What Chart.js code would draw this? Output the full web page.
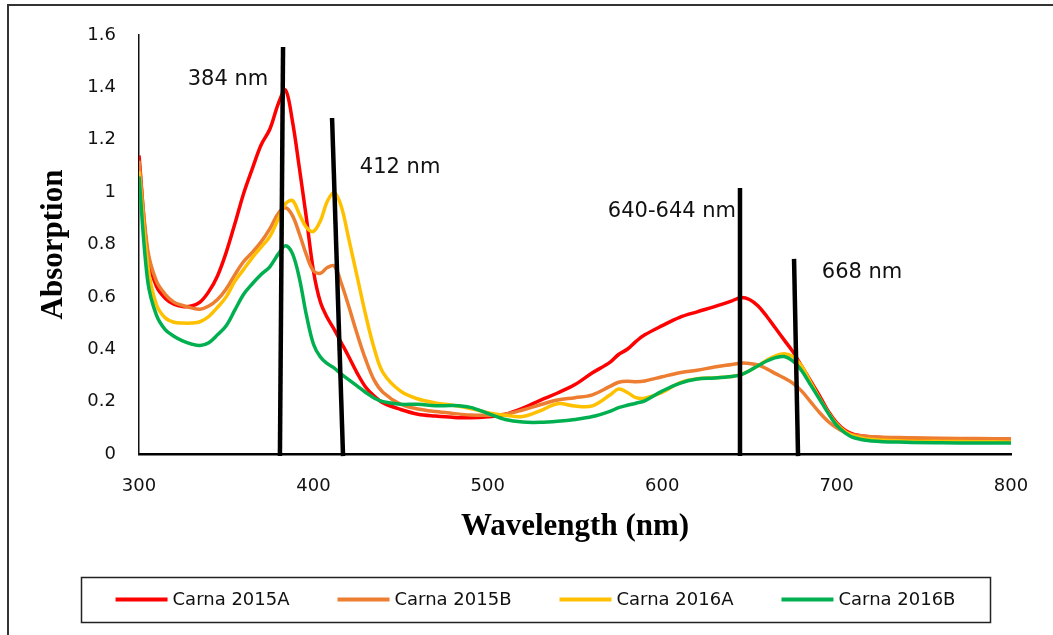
<!DOCTYPE html>
<html>
<head>
<meta charset="utf-8">
<title>Absorption spectra</title>
<script src="https://cdn.jsdelivr.net/npm/chart.js@4.4.1/dist/chart.umd.min.js"></script>
<style>
  html, body { margin: 0; padding: 0; background: #fff; }
  #spectra { display: block; }
</style>
</head>
<body>
<canvas id="spectra" width="1053" height="635"></canvas>
<script>
// ---- data ----
const wavelengths = [
  300, 305, 310, 315, 320, 325, 330, 335, 340, 345, 350, 355, 360, 365, 370, 375, 380,
  384, 388, 392, 396, 400, 404, 408, 412, 416, 420,
  425, 430, 435, 440,
  450, 460, 470, 480, 490, 500, 510, 520, 530, 540, 550, 560,
  570, 575, 580, 585, 590,
  600, 610, 620, 630, 640,
  645, 650, 655, 660, 665, 670, 675, 680, 685, 690, 695, 700, 705, 710,
  720, 740, 760, 780, 800
];

const carna2015A = [
  1.14, 0.76, 0.64, 0.595, 0.572, 0.563, 0.565, 0.58, 0.62, 0.68, 0.77, 0.88, 0.995, 1.09, 1.18, 1.24, 1.34,
  1.39, 1.27, 1.09, 0.9, 0.7, 0.58, 0.52, 0.475, 0.425, 0.375,
  0.31, 0.255, 0.22, 0.195,
  0.17, 0.152, 0.145, 0.14, 0.138, 0.142, 0.152, 0.175, 0.205, 0.233, 0.265, 0.31,
  0.35, 0.38, 0.4, 0.43, 0.455,
  0.49, 0.522, 0.543, 0.563, 0.585,
  0.597, 0.59, 0.565, 0.525, 0.48, 0.435, 0.39, 0.335, 0.28, 0.225, 0.165, 0.12, 0.09, 0.075,
  0.065, 0.06, 0.058, 0.056, 0.055
];

const carna2015B = [
  1.12, 0.78, 0.66, 0.61, 0.58, 0.567, 0.558, 0.553, 0.565, 0.59, 0.63, 0.685, 0.735, 0.77, 0.81, 0.86, 0.92,
  0.94, 0.91, 0.84, 0.76, 0.7, 0.69, 0.712, 0.718, 0.652, 0.57,
  0.46, 0.36, 0.28, 0.235,
  0.19, 0.172, 0.162, 0.155, 0.149, 0.148, 0.152, 0.168, 0.188, 0.206, 0.215, 0.226,
  0.258, 0.274, 0.278, 0.276, 0.279,
  0.295, 0.31, 0.32, 0.332, 0.342,
  0.347, 0.346, 0.34, 0.325, 0.307, 0.29, 0.27, 0.24, 0.2, 0.16, 0.125, 0.1, 0.082, 0.073,
  0.066, 0.062, 0.06, 0.059, 0.058
];

const carna2016A = [
  1.08, 0.72, 0.57, 0.52, 0.503, 0.5, 0.5, 0.505, 0.525, 0.56, 0.6, 0.66, 0.705, 0.75, 0.79, 0.83, 0.9,
  0.955, 0.968, 0.915, 0.865, 0.85, 0.89, 0.965, 0.998, 0.945, 0.83,
  0.68, 0.53, 0.4, 0.31,
  0.24, 0.21, 0.195, 0.186, 0.174, 0.158, 0.148, 0.143, 0.165, 0.192, 0.183, 0.184,
  0.225, 0.248, 0.235, 0.215, 0.213,
  0.235, 0.272, 0.287, 0.291, 0.296,
  0.303, 0.318, 0.337, 0.358, 0.375, 0.383, 0.372, 0.335, 0.275, 0.215, 0.16, 0.115, 0.085, 0.068,
  0.055, 0.05, 0.048, 0.047, 0.046
];

const carna2016B = [
  1.06, 0.66, 0.53, 0.475, 0.45, 0.432, 0.42, 0.414, 0.425, 0.455, 0.49, 0.55, 0.61, 0.65, 0.685, 0.715, 0.765,
  0.795, 0.765, 0.67, 0.53, 0.42, 0.37, 0.345, 0.328, 0.305, 0.285,
  0.26, 0.235, 0.213, 0.2,
  0.19, 0.19, 0.184, 0.185, 0.178, 0.155, 0.132, 0.122, 0.121, 0.125, 0.132, 0.143,
  0.163, 0.177, 0.186, 0.194, 0.203,
  0.24, 0.27, 0.286, 0.29, 0.296,
  0.302, 0.318, 0.337, 0.355, 0.368, 0.372, 0.355, 0.318, 0.265, 0.212, 0.158, 0.11, 0.08, 0.062,
  0.05, 0.045, 0.043, 0.042, 0.042
];

const seriesNames = ['Carna 2015A', 'Carna 2015B', 'Carna 2016A', 'Carna 2016B'];
const seriesValues = [carna2015A, carna2015B, carna2016A, carna2016B];

// peak marker bars: [top, bottom] in wavelength / absorption units
const markerX = [[382.6, 380.8], [410.7, 417.0], [644.6, 644.6], [675.6, 677.9]];
const markerY = [[1.554, -0.008], [1.283, -0.008], [1.016, -0.008], [0.745, -0.008]];
const markerLabels = ['384 nm', '412 nm', '640-644 nm', '668 nm'];
const markerLabelAt = [[351, 1.428], [449.7, 1.092], [605.6, 0.924], [714.6, 0.691]];

const xTicks = [300, 400, 500, 600, 700, 800];
const yTicks = [0, 0.2, 0.4, 0.6, 0.8, 1, 1.2, 1.4, 1.6];

// ---- styles ----
const seriesColors = ['#FF0000', '#ED7D31', '#FFC000', '#00B050'];
const tickFont = { family: '"DejaVu Sans", sans-serif', size: 18 };
const titleFont = { family: '"Liberation Serif", serif', size: 31, weight: 'bold', lineHeight: 1.2 };

const spectra = seriesValues.map((vals, i) => ({
  label: seriesNames[i],
  data: wavelengths.map((w, j) => ({ x: w, y: vals[j] })),
  borderColor: seriesColors[i],
  borderWidth: 3.5,
  pointRadius: 0,
  tension: 0.35,
  order: 4 - i
}));

const markers = markerX.map((xs, i) => ({
  label: markerLabels[i],
  data: xs.map((x, j) => ({ x: x, y: markerY[i][j] })),
  borderColor: '#000',
  borderWidth: 4.5,
  borderCapStyle: 'butt',
  pointRadius: 0,
  clip: false,
  order: 0
}));

// frame, peak captions and boxed legend
const chrome = {
  id: 'chrome',
  beforeDraw(chart) {
    const ctx = chart.ctx;
    ctx.save();
    ctx.fillStyle = '#fff';
    ctx.fillRect(0, 0, chart.width, chart.height);
    ctx.restore();
  },
  afterDraw(chart) {
    const { ctx, scales: { x, y } } = chart;
    ctx.save();

    ctx.font = '21px "DejaVu Sans", sans-serif';
    ctx.fillStyle = '#111';
    ctx.textAlign = 'center';
    ctx.textBaseline = 'middle';
    markerLabels.forEach((t, i) => {
      ctx.fillText(t, x.getPixelForValue(markerLabelAt[i][0]), y.getPixelForValue(markerLabelAt[i][1]));
    });

    // outer frame (left + top edges)
    ctx.strokeStyle = '#333';
    ctx.lineWidth = 2;
    ctx.beginPath();
    ctx.moveTo(8, chart.height);
    ctx.lineTo(8, 5);
    ctx.lineTo(chart.width, 5);
    ctx.stroke();

    // legend box
    const box = { left: 81, top: 577, right: 990, bottom: 622 };
    ctx.lineWidth = 1.5;
    ctx.strokeStyle = '#222';
    ctx.strokeRect(box.left + 0.5, box.top + 0.5, box.right - box.left, box.bottom - box.top);

    ctx.font = '18px "DejaVu Sans", sans-serif';
    ctx.textAlign = 'left';
    const sample = 52, gapText = 5, gapItem = 48;
    const widths = seriesNames.map(n => sample + gapText + ctx.measureText(n).width);
    const total = widths.reduce((a, b) => a + b, 0) + gapItem * (widths.length - 1);
    let cx = (box.left + box.right) / 2 - total / 2;
    const cy = (box.top + box.bottom) / 2;
    seriesNames.forEach((n, i) => {
      ctx.strokeStyle = seriesColors[i];
      ctx.lineWidth = 4;
      ctx.beginPath();
      ctx.moveTo(cx, cy);
      ctx.lineTo(cx + sample, cy);
      ctx.stroke();
      ctx.fillStyle = '#111';
      ctx.fillText(n, cx + sample + gapText, cy + 1);
      cx += widths[i] + gapItem;
    });
    ctx.restore();
  }
};

new Chart(document.getElementById('spectra'), {
  type: 'line',
  data: { datasets: [...markers, ...spectra] },
  options: {
    responsive: false,
    animation: false,
    devicePixelRatio: 1,
    layout: { padding: { top: 35, right: 42, bottom: 0, left: 0 } },
    plugins: {
      legend: { display: false },
      tooltip: { enabled: false }
    },
    scales: {
      x: {
        type: 'linear',
        min: 300,
        max: 800,
        afterBuildTicks: s => { s.ticks = xTicks.map(v => ({ value: v })); },
        afterFit: s => { s.height = 181; },
        grid: { display: false, drawTicks: false },
        border: { display: true, color: '#000', width: 2.5 },
        ticks: { font: tickFont, color: '#111', padding: 22, maxRotation: 0 },
        title: {
          display: true,
          text: 'Wavelength (nm)',
          font: titleFont,
          color: '#000',
          padding: { top: 0, bottom: 89 }
        }
      },
      y: {
        min: 0,
        max: 1.6,
        afterBuildTicks: s => { s.ticks = yTicks.map(v => ({ value: v })); },
        afterFit: s => { s.width = 139; },
        grid: { display: false, drawTicks: false },
        border: { display: true, color: '#111', width: 1.5 },
        ticks: { font: tickFont, color: '#111', padding: 23, callback: v => String(v) },
        title: {
          display: true,
          text: 'Absorption',
          font: titleFont,
          color: '#000',
          padding: { top: 35, bottom: 0 }
        }
      }
    }
  },
  plugins: [chrome]
});
</script>
</body>
</html>
